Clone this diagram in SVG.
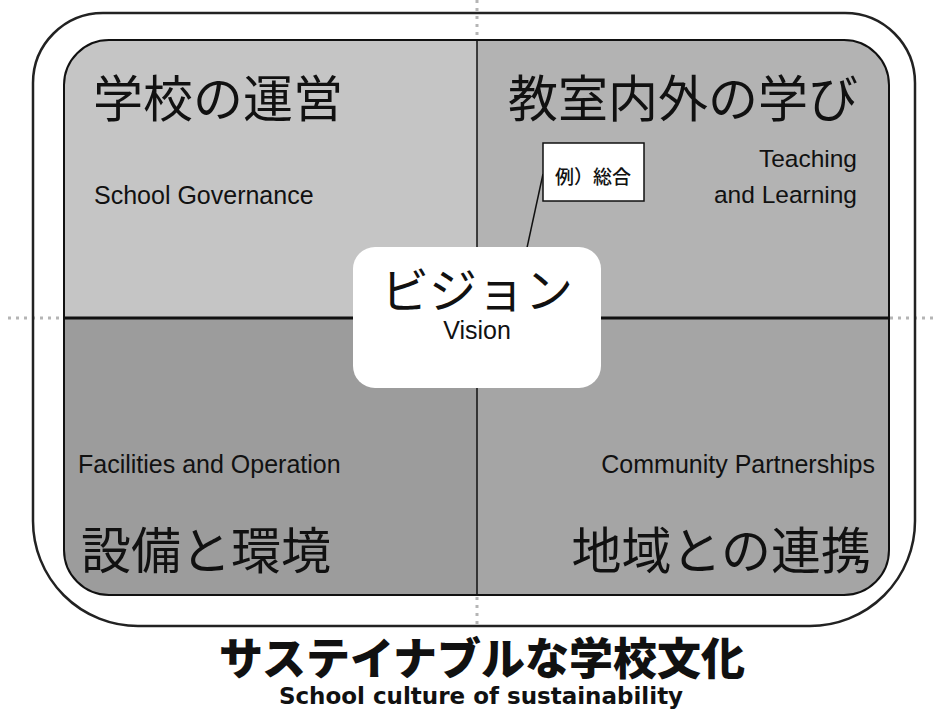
<svg xmlns="http://www.w3.org/2000/svg" width="935" height="710" viewBox="0 0 935 710">
<style>
.jp{font-family:"Noto Sans CJK JP","Noto Sans CJK SC",sans-serif;fill:#111;}
.en{font-family:"Liberation Sans",Arial,sans-serif;fill:#111;}
.dot{stroke:#b5b5b5;stroke-width:3;stroke-dasharray:3 5;fill:none;}
</style>
<defs>
<clipPath id="innerClip"><rect x="64" y="40" width="825" height="555" rx="45" ry="45"/></clipPath>
</defs>
<rect width="935" height="710" fill="#fff"/>
<g id="guides">
<line class="dot" x1="477" y1="0" x2="477" y2="40"/>
<line class="dot" x1="477" y1="597" x2="477" y2="628"/>
<line class="dot" x1="8" y1="318" x2="64" y2="318"/>
<line class="dot" x1="890" y1="318" x2="935" y2="318"/>
</g>
<g id="outer">
<path d="M103,13 H845 A70,70 0 0 1 915,83 V521 A105,105 0 0 1 810,626 H138 A105,105 0 0 1 33,521 V83 A70,70 0 0 1 103,13 Z" fill="none" stroke="#222" stroke-width="2.5"/>
</g>
<g id="quadrants" clip-path="url(#innerClip)">
<rect x="64" y="40" width="413" height="278" fill="#c5c5c5"/>
<rect x="477" y="40" width="412" height="278" fill="#b3b3b3"/>
<rect x="64" y="318" width="413" height="277" fill="#9c9c9c"/>
<rect x="477" y="318" width="412" height="277" fill="#a5a5a5"/>
<line x1="477" y1="40" x2="477" y2="595" stroke="#111" stroke-width="1.5"/>
<line x1="64" y1="318" x2="889" y2="318" stroke="#111" stroke-width="3"/>
</g>
<rect x="64" y="40" width="825" height="555" rx="45" ry="45" fill="none" stroke="#111" stroke-width="2"/>
<g id="governance">
<text class="jp" x="93" y="117" font-size="50">学校の運営</text>
<text class="en" x="94" y="204" font-size="25">School Governance</text>
</g>
<g id="learning">
<text class="jp" x="858" y="117" font-size="50" text-anchor="end">教室内外の学び</text>
<text class="en" x="857" y="167" font-size="24.5" text-anchor="end">Teaching</text>
<text class="en" x="857" y="203" font-size="24.5" text-anchor="end">and Learning</text>
</g>
<g id="facilities">
<text class="en" x="78" y="473" font-size="25">Facilities and Operation</text>
<text class="jp" x="81" y="569" font-size="50">設備と環境</text>
</g>
<g id="community">
<text class="en" x="875" y="473" font-size="25" text-anchor="end">Community Partnerships</text>
<text class="jp" x="871" y="569" font-size="50" text-anchor="end">地域との連携</text>
</g>
<g id="connectors">
<line x1="543" y1="174" x2="525" y2="257" stroke="#111" stroke-width="1.5"/>
</g>
<g id="vision">
<rect x="353" y="247" width="248" height="141" rx="22" ry="22" fill="#fff"/>
<text class="jp" x="477" y="308" font-size="48" text-anchor="middle">ビジョン</text>
<text class="en" x="477" y="339" font-size="25" text-anchor="middle">Vision</text>
</g>
<g id="example">
<rect x="543" y="143" width="101" height="58" fill="#fff" stroke="#111" stroke-width="1.5"/>
<text class="jp" x="593" y="184" font-size="19" text-anchor="middle" font-weight="500">例）総合</text>
</g>
<g id="title">
<text class="jp" x="482" y="675" font-size="44" font-weight="900" text-anchor="middle">サステイナブルな学校文化</text>
<text x="481" y="704" font-size="23" font-weight="bold" text-anchor="middle" style="font-family:'DejaVu Sans',Verdana,sans-serif;fill:#111">School culture of sustainability</text>
</g>
</svg>
